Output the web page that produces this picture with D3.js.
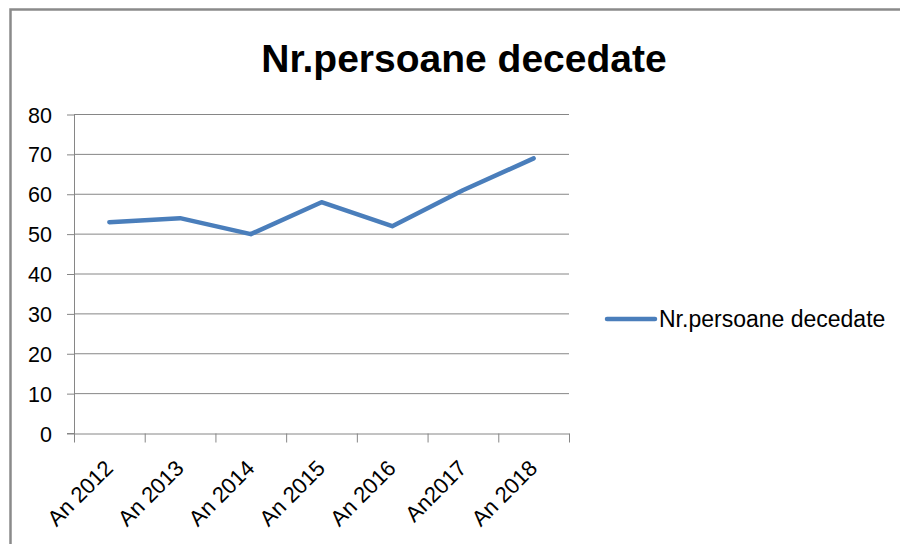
<!DOCTYPE html>
<html lang="ro">
<head>
    <meta charset="UTF-8">
    <title>Nr.persoane decedate</title>
    <script src="https://d3js.org/d3.v7.min.js"></script>
    <style>
        body { margin: 0; background: #fff; }
        svg { display: block; font-family: "Liberation Sans", Arial, sans-serif; }
        .axis path, .axis line { stroke: #868686; }
        .grid line { stroke: #868686; stroke-width: 1; }
        .axis text { fill: #000; }
    </style>
</head>
<body>
    <svg width="900" height="544"></svg>
    <script>
        // data
        const years = ["An 2012", "An 2013", "An 2014", "An 2015", "An 2016", "An2017", "An 2018"];
        const deaths = [53, 54, 50, 58, 52, 61, 69];
        const yTicks = [0, 10, 20, 30, 40, 50, 60, 70, 80];
        const seriesName = "Nr.persoane decedate";

        const width = 900, height = 544;
        const plot = { left: 74, right: 569, top: 114.5, bottom: 433.5 };
        const svg = d3.select("svg");

        // chart border
        svg.append("rect")
            .attr("x", 10.5).attr("y", 9.5)
            .attr("width", 910).attr("height", 560)
            .attr("fill", "#fff")
            .attr("stroke", "#8a8a8a")
            .attr("stroke-width", 2.5);

        const x = d3.scaleBand().domain(years).range([plot.left, plot.right]).padding(0);
        const xEdge = d3.scaleLinear().domain([0, years.length]).range([plot.left, plot.right]);
        const y = d3.scaleLinear().domain([0, 80]).range([plot.bottom, plot.top]);

        // gridlines
        svg.append("g").attr("class", "grid")
            .selectAll("line")
            .data(yTicks.filter(d => d > 0))
            .enter().append("line")
            .attr("x1", plot.left).attr("x2", plot.right)
            .attr("y1", d => y(d)).attr("y2", d => y(d));

        // y axis
        const yAxis = svg.append("g").attr("class", "axis")
            .attr("transform", `translate(${plot.left},0)`)
            .call(d3.axisLeft(y).tickValues(yTicks).tickSize(7).tickSizeOuter(0).tickPadding(15));
        yAxis.selectAll("text").style("font-size", "21.5px").attr("dy", "0.35em");

        // x axis, ticks on category edges
        svg.append("g").attr("class", "axis")
            .attr("transform", `translate(0,${plot.bottom})`)
            .call(d3.axisBottom(xEdge).tickValues(d3.range(years.length + 1)).tickFormat("").tickSize(9).tickSizeOuter(0));
        // small stub left of the origin
        svg.append("line")
            .attr("x1", plot.left - 7).attr("x2", plot.left)
            .attr("y1", plot.bottom).attr("y2", plot.bottom)
            .attr("stroke", "#868686");

        svg.append("g")
            .selectAll("text")
            .data(years)
            .enter().append("text")
            .attr("transform", d => `translate(${x(d) + x.bandwidth() / 2 + 5},${plot.bottom + 36}) rotate(-45)`)
            .attr("text-anchor", "end")
            .style("font-size", "22px")
            .text(d => d);

        // series line
        const line = d3.line()
            .x((d, i) => x(years[i]) + x.bandwidth() / 2)
            .y(d => y(d));
        svg.append("path")
            .datum(deaths)
            .attr("d", line)
            .attr("fill", "none")
            .attr("stroke", "#4A7EBB")
            .attr("stroke-width", 4.5)
            .attr("stroke-linejoin", "round")
            .attr("stroke-linecap", "round");

        // title
        svg.append("text")
            .attr("x", 464).attr("y", 72)
            .attr("text-anchor", "middle")
            .style("font-size", "39px")
            .style("font-weight", "bold")
            .text(seriesName);

        // legend
        const legend = svg.append("g").attr("transform", "translate(607,319)");
        legend.append("line")
            .attr("x1", 0).attr("x2", 48)
            .attr("stroke", "#4A7EBB")
            .attr("stroke-width", 4.5)
            .attr("stroke-linecap", "round");
        legend.append("text")
            .attr("x", 52).attr("dy", "0.35em")
            .style("font-size", "23px")
            .text(seriesName);
    </script>
</body>
</html>
